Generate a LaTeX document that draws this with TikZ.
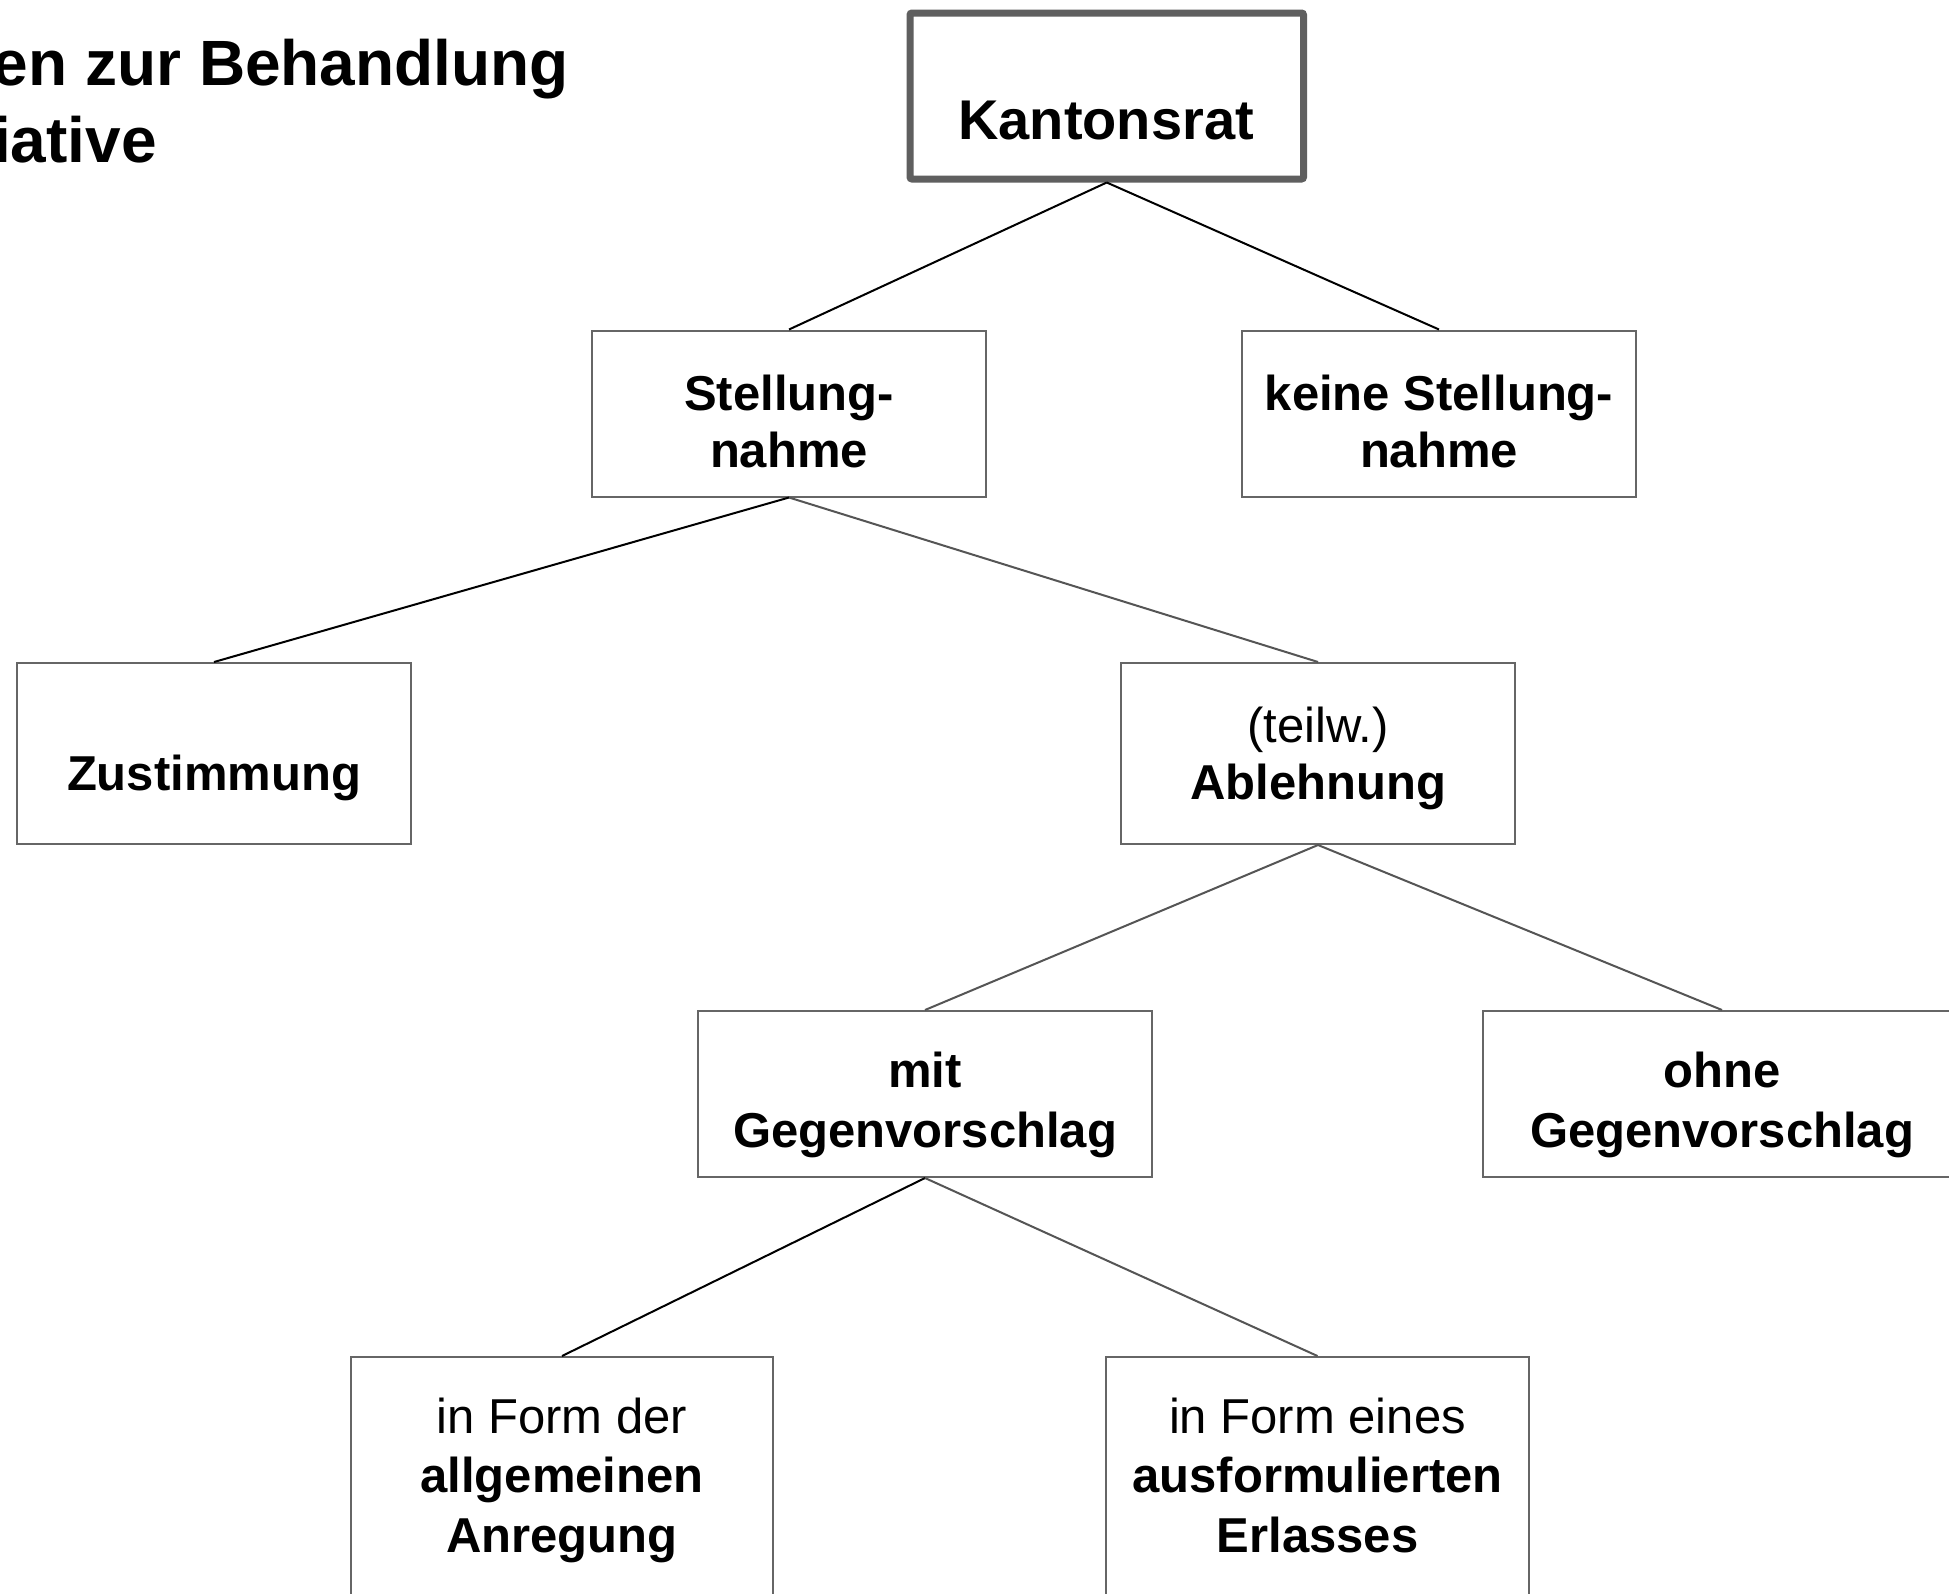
\documentclass[tikz,border=0pt]{standalone}
\usepackage{fontspec}
\setmainfont{Liberation Sans}
\newcommand\mytitlefont{\fontsize{64}{77}\selectfont\bfseries}
\newcommand\mykfont{\fontsize{56}{67}\selectfont\bfseries}
\newcommand\myboxfont{\fontsize{49}{60}\selectfont}
\definecolor{boxgray}{HTML}{666666}
\definecolor{kgray}{HTML}{5F5F5F}
\definecolor{linegray}{HTML}{555555}
\begin{document}
\begin{tikzpicture}[x=1pt,y=-1pt,
  box/.style={draw=boxgray, line width=2pt, fill=white, rectangle, inner sep=0pt},
  conk/.style={draw=black, line width=2pt},
  cong/.style={draw=linegray, line width=2pt},
  lb/.style={inner sep=0pt, anchor=base, font=\myboxfont\bfseries},
  lr/.style={inner sep=0pt, anchor=base, font=\myboxfont},
  ttl/.style={inner sep=0pt, anchor=base east, font=\mytitlefont}]
\useasboundingbox (0,0) rectangle (1949,1593);
\fill[white] (0,0) rectangle (1949,1593);

% boxes
\node[box, minimum width=393.5pt, minimum height=166pt, line width=7pt, draw=kgray, rounded corners=2pt] (kant) at (1106.75,96) {};
\node[box, minimum width=394pt, minimum height=166pt] (stell) at (789,413.5) {};
\node[box, minimum width=394pt, minimum height=166pt] (keine) at (1439,413.5) {};
\node[box, minimum width=394pt, minimum height=181pt] (zust) at (214,753.5) {};
\node[box, minimum width=394pt, minimum height=181pt] (abl) at (1318,753.5) {};
\node[box, minimum width=454pt, minimum height=166pt] (mit) at (925,1094) {};
\node[box, minimum width=478pt, minimum height=166pt] (ohne) at (1722,1094) {};
\node[box, minimum width=422pt, minimum height=283pt] (der) at (562,1498.5) {};
\node[box, minimum width=423pt, minimum height=283pt] (eines) at (1317.5,1498.5) {};

% connectors
\draw[conk] (kant.south) -- (stell.north);
\draw[conk] (kant.south) -- (keine.north);
\draw[conk] (stell.south) -- (zust.north);
\draw[cong] (stell.south) -- (abl.north);
\draw[cong] (abl.south) -- (mit.north);
\draw[cong] (abl.south) -- (ohne.north);
\draw[conk] (mit.south) -- (der.north);
\draw[cong] (mit.south) -- (eines.north);

% title
\node[ttl] (title1) at (569,85) {en zur Behandlung};
\node[ttl] (title2) at (157,162) {iative};

% texts
\node[inner sep=0pt, anchor=base, font=\mykfont] (tk) at (1106,139) {Kantonsrat};
\node[lb] (ts1) at (789,410) {Stellung-};
\node[lb] (ts2) at (789,467) {nahme};
\node[lb] (tk1) at (1439,410) {keine Stellung-};
\node[lb] (tk2) at (1439,467) {nahme};
\node[lb] (tz) at (214,790) {Zustimmung};
\node[lr] (ta1) at (1318,742) {(teilw.)};
\node[lb] (ta2) at (1318,799) {Ablehnung};
\node[lb] (tm1) at (925,1087) {mit};
\node[lb] (tm2) at (925,1147) {Gegenvorschlag};
\node[lb] (to1) at (1722,1087) {ohne};
\node[lb] (to2) at (1722,1147) {Gegenvorschlag};
\node[lr] (td1) at (562,1433) {in Form der};
\node[lb] (td2) at (562,1492) {allgemeinen};
\node[lb] (td3) at (562,1552) {Anregung};
\node[lr] (te1) at (1317.5,1433) {in Form eines};
\node[lb] (te2) at (1317.5,1492) {ausformulierten};
\node[lb] (te3) at (1317.5,1552) {Erlasses};
\end{tikzpicture}
\end{document}
